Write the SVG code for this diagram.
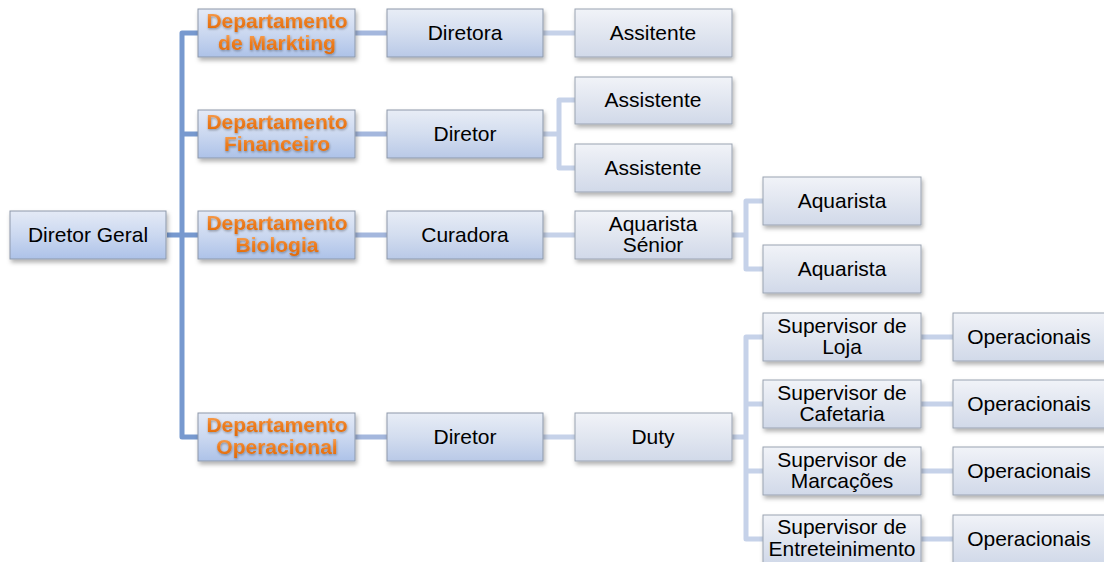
<svg xmlns="http://www.w3.org/2000/svg" width="1104" height="562" viewBox="0 0 1104 562">
<defs>
<linearGradient id="gA" x1="0" y1="0" x2="0" y2="1">
<stop offset="0" stop-color="#e4eaf6"/><stop offset="0.5" stop-color="#cbd8f0"/><stop offset="1" stop-color="#adc2e8"/>
</linearGradient>
<linearGradient id="gB" x1="0" y1="0" x2="0" y2="1">
<stop offset="0" stop-color="#e8edf6"/><stop offset="0.5" stop-color="#d3ddef"/><stop offset="1" stop-color="#b9c9e7"/>
</linearGradient>
<linearGradient id="gC" x1="0" y1="0" x2="0" y2="1">
<stop offset="0" stop-color="#f1f3f8"/><stop offset="0.5" stop-color="#e1e6f0"/><stop offset="1" stop-color="#d1d9e9"/>
</linearGradient>
<linearGradient id="gT" x1="0" y1="0" x2="0" y2="1">
<stop offset="0" stop-color="#f9b06c"/><stop offset="0.5" stop-color="#ee7d1f"/><stop offset="1" stop-color="#e06a08"/>
</linearGradient>
<filter id="sh" x="-10%" y="-20%" width="130%" height="160%">
<feDropShadow dx="1.5" dy="3" stdDeviation="2" flood-color="#000" flood-opacity="0.3"/>
</filter>
<filter id="ts" x="-5%" y="-10%" width="110%" height="130%">
<feDropShadow dx="0.5" dy="1.2" stdDeviation="0.8" flood-color="#000" flood-opacity="0.35"/>
</filter>
</defs>
<style>
.a{fill:url(#gA);stroke:#8d98aa;stroke-width:1;filter:url(#sh)}
.b{fill:url(#gB);stroke:#8d98aa;stroke-width:1;filter:url(#sh)}
.c{fill:url(#gC);stroke:#9aa3b2;stroke-width:1;filter:url(#sh)}
text{font-family:"Liberation Sans",Arial,sans-serif;font-size:21px;fill:#000;text-anchor:middle}
.d{font-weight:bold;font-size:21px;fill:url(#gT);filter:url(#ts)}
.l1{fill:none;stroke:#7799cf;stroke-width:5;stroke-linejoin:round}
.l2{fill:none;stroke:#a4b7dd;stroke-width:5}
.l3{fill:none;stroke:#c6d2e9;stroke-width:5;stroke-linejoin:round}
</style>
<g id="connectors">
<path class="l1" d="M198 33 H182 V437 H198 M167 235 H198 M182 134 H198"/>
<path class="l2" d="M355 33 H387 M355 134 H387 M355 235 H387 M355 437 H387"/>
<path class="l3" d="M543 33 H575 M543 134 H559 M575 100 H559 V168 H575 M543 235 H575 M543 437 H575"/>
<path class="l3" d="M732 235 H746 M763 201 H746 V269 H763 M732 437 H746 M763 337 H746 V539 H763 M746 404 H763 M746 471 H763"/>
<path class="l3" d="M921 337 H953 M921 404 H953 M921 471 H953 M921 539 H953"/>
</g>
<g id="n-diretor-geral"><rect class="a" x="10" y="211" width="156" height="48"/><text x="88" y="242">Diretor Geral</text></g>
<g id="n-dep-marketing"><rect class="a" x="198" y="9" width="157" height="48"/><text class="d" x="277" y="28">Departamento</text><text class="d" x="277" y="50">de Markting</text></g>
<g id="n-dep-financeiro"><rect class="a" x="198" y="110" width="157" height="48"/><text class="d" x="277" y="129">Departamento</text><text class="d" x="277" y="151">Financeiro</text></g>
<g id="n-dep-biologia"><rect class="a" x="198" y="211" width="157" height="48"/><text class="d" x="277" y="230">Departamento</text><text class="d" x="277" y="252">Biologia</text></g>
<g id="n-dep-operacional"><rect class="a" x="198" y="413" width="157" height="48"/><text class="d" x="277" y="432">Departamento</text><text class="d" x="277" y="454">Operacional</text></g>
<g id="n-diretora"><rect class="b" x="387" y="9" width="156" height="48"/><text x="465" y="40">Diretora</text></g>
<g id="n-diretor-fin"><rect class="b" x="387" y="110" width="156" height="48"/><text x="465" y="141">Diretor</text></g>
<g id="n-curadora"><rect class="b" x="387" y="211" width="156" height="48"/><text x="465" y="242">Curadora</text></g>
<g id="n-diretor-op"><rect class="b" x="387" y="413" width="156" height="48"/><text x="465" y="444">Diretor</text></g>
<g id="n-assitente"><rect class="c" x="575" y="9" width="157" height="48"/><text x="653" y="40">Assitente</text></g>
<g id="n-assistente1"><rect class="c" x="575" y="77" width="157" height="47"/><text x="653" y="107">Assistente</text></g>
<g id="n-assistente2"><rect class="c" x="575" y="144" width="157" height="48"/><text x="653" y="175">Assistente</text></g>
<g id="n-aquarista-senior"><rect class="c" x="575" y="211" width="157" height="48"/><text x="653" y="231">Aquarista</text><text x="653" y="252">Sénior</text></g>
<g id="n-duty"><rect class="c" x="575" y="413" width="157" height="48"/><text x="653" y="444">Duty</text></g>
<g id="n-aquarista1"><rect class="c" x="763" y="177" width="158" height="48"/><text x="842" y="208">Aquarista</text></g>
<g id="n-aquarista2"><rect class="c" x="763" y="245" width="158" height="48"/><text x="842" y="276">Aquarista</text></g>
<g id="n-sup-loja"><rect class="c" x="763" y="313" width="158" height="48"/><text x="842" y="333">Supervisor de</text><text x="842" y="354">Loja</text></g>
<g id="n-sup-cafetaria"><rect class="c" x="763" y="380" width="158" height="48"/><text x="842" y="400">Supervisor de</text><text x="842" y="421">Cafetaria</text></g>
<g id="n-sup-marcacoes"><rect class="c" x="763" y="447" width="158" height="48"/><text x="842" y="467">Supervisor de</text><text x="842" y="488">Marcações</text></g>
<g id="n-sup-entreteinimento"><rect class="c" x="763" y="515" width="158" height="48"/><text x="842" y="534">Supervisor de</text><text x="842" y="556">Entreteinimento</text></g>
<g id="n-oper1"><rect class="c" x="953" y="313" width="158" height="48"/><text x="1029" y="344">Operacionais</text></g>
<g id="n-oper2"><rect class="c" x="953" y="380" width="158" height="48"/><text x="1029" y="411">Operacionais</text></g>
<g id="n-oper3"><rect class="c" x="953" y="447" width="158" height="48"/><text x="1029" y="478">Operacionais</text></g>
<g id="n-oper4"><rect class="c" x="953" y="515" width="158" height="48"/><text x="1029" y="546">Operacionais</text></g>
</svg>
